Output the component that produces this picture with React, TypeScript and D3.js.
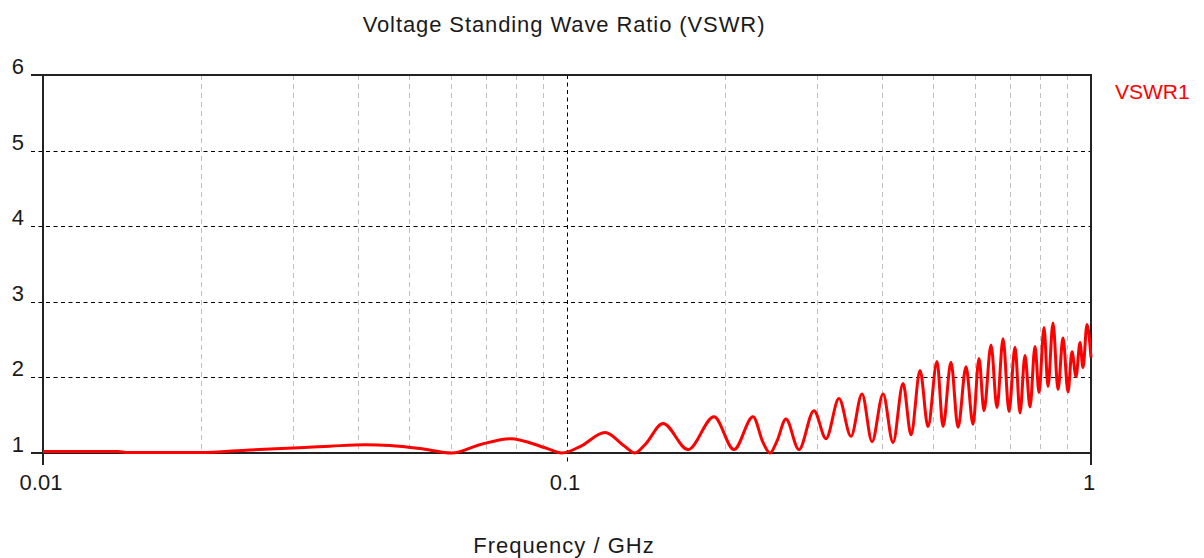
import React from "react";
import * as d3 from "d3";

// ---- data ----
const freqGHz: number[] = [
  0.0100, 0.0139, 0.0145, 0.0199, 0.0248, 0.0309, 0.0353, 0.0412, 0.0459, 0.0524,
  0.0603, 0.0682, 0.0779, 0.0908, 0.0978, 0.1059,
  0.1182, 0.1290, 0.1348, 0.1409, 0.1525, 0.1702, 0.1908, 0.2083, 0.2265, 0.2366, 0.2441, 0.2517, 0.2617, 0.2771,
  0.2960, 0.3121, 0.3304, 0.3483, 0.3656, 0.3821, 0.4010, 0.4190, 0.4378, 0.4535,
  0.4718, 0.4886, 0.5083, 0.5219, 0.5405, 0.5575, 0.5774, 0.5954, 0.6113, 0.6249,
  0.6445, 0.6616, 0.6794, 0.6975, 0.7161, 0.7320, 0.7482, 0.7649, 0.7819, 0.7958,
  0.8134, 0.8278, 0.8462, 0.8650, 0.8842, 0.9039, 0.9198, 0.9363, 0.9528, 0.9654,
  0.9826, 1.0000,
];
const vswr1: number[] = [
  1.02, 1.02, 1.005, 1.005, 1.04, 1.07, 1.09, 1.11, 1.10, 1.06,
  1.00, 1.11, 1.19, 1.07, 1.00, 1.085,
  1.27, 1.085, 1.00, 1.11, 1.39, 1.045, 1.48, 1.045, 1.48, 1.14, 1.00, 1.16, 1.45, 1.045,
  1.56, 1.19, 1.72, 1.22, 1.78, 1.15, 1.78, 1.14, 1.92, 1.24,
  2.09, 1.35, 2.21, 1.35, 2.20, 1.34, 2.14, 1.38, 2.25, 1.56,
  2.43, 1.60, 2.51, 1.55, 2.40, 1.53, 2.29, 1.61, 2.41, 1.80,
  2.66, 1.88, 2.72, 1.84, 2.52, 1.81, 2.34, 2.01, 2.46, 2.13,
  2.70, 2.26,
];
const yTicks: number[] = [1, 2, 3, 4, 5, 6];
const xMajorTicks: number[] = [0.01, 0.1, 1];
const xMajorLabels: string[] = ["0.01", "0.1", "1"];
const xMinorTicks: number[] = [
  0.02, 0.03, 0.04, 0.05, 0.06, 0.07, 0.08, 0.09,
  0.2, 0.3, 0.4, 0.5, 0.6, 0.7, 0.8, 0.9,
];
const title = "Voltage Standing Wave Ratio (VSWR)";
const xTitle = "Frequency / GHz";
const seriesName = "VSWR1";

export default function App() {
  const W = 1204, H = 558;
  const left = 43, right = 1091, top = 75, bottom = 453;
  const x = d3.scaleLog().domain([0.01, 1]).range([left, right]);
  const y = d3.scaleLinear().domain([1, 6]).range([bottom, top]);
  const pts = freqGHz.map((f, i) => [f, vswr1[i]] as [number, number]);
  const line = d3
    .line<[number, number]>()
    .x((d) => x(d[0]))
    .y((d) => y(d[1]))
    .curve(d3.curveMonotoneX);
  const font = "'Liberation Sans', Arial, sans-serif";
  const txt = "#1a1a1a";

  return (
    <svg
      width={W}
      height={H}
      style={{ position: "absolute", left: 0, top: 0, background: "#fff" }}
      fontFamily={font}
    >
      {/* minor vertical grid */}
      {xMinorTicks.map((t) => (
        <line
          key={"mv" + t}
          x1={Math.round(x(t)) + 0.5}
          x2={Math.round(x(t)) + 0.5}
          y1={top}
          y2={bottom}
          stroke="#c0c0c0"
          strokeWidth={1}
          strokeDasharray="5,4"
        />
      ))}
      {/* major vertical 0.1 */}
      <line
        x1={Math.round(x(0.1)) + 0.5}
        x2={Math.round(x(0.1)) + 0.5}
        y1={top}
        y2={bottom + 12}
        stroke="#000"
        strokeWidth={1}
        strokeDasharray="4,3.5"
      />
      {/* horizontal grid */}
      {yTicks
        .filter((t) => t > 1 && t < 6)
        .map((t) => (
          <line
            key={"hg" + t}
            x1={31}
            x2={right}
            y1={Math.round(y(t)) + 0.5}
            y2={Math.round(y(t)) + 0.5}
            stroke="#000"
            strokeWidth={1}
            strokeDasharray="4,3.5"
          />
        ))}
      {/* frame */}
      <line x1={31} x2={right + 1} y1={top} y2={top} stroke="#222" strokeWidth={2} />
      <line x1={31} x2={right + 1} y1={bottom} y2={bottom} stroke="#222" strokeWidth={2} />
      <line x1={left} x2={left} y1={top} y2={bottom + 12} stroke="#222" strokeWidth={2} />
      <line x1={right} x2={right} y1={top} y2={bottom + 12} stroke="#222" strokeWidth={2} />

      {/* data */}
      <path d={line(pts) || ""} fill="none" stroke="#ff0000" strokeWidth={3} strokeLinejoin="round" />

      {/* y tick labels */}
      {yTicks.map((t) => (
        <text key={"yl" + t} x={24} y={y(t) - 1} textAnchor="end" fontSize={22} fill={txt}>
          {t}
        </text>
      ))}
      {/* x tick labels */}
      {xMajorTicks.map((t, i) => (
        <text key={"xl" + t} x={x(t) - 2} y={490} textAnchor="middle" fontSize={22} fill={txt}>
          {xMajorLabels[i]}
        </text>
      ))}
      <text x={564} y={32} textAnchor="middle" fontSize={22} letterSpacing={0.9} fill={txt}>
        {title}
      </text>
      <text x={564} y={553} textAnchor="middle" fontSize={22} letterSpacing={1} fill={txt}>
        {xTitle}
      </text>
      <text x={1115} y={99} fontSize={21} fill="#ff0000">
        {seriesName}
      </text>
    </svg>
  );
}
